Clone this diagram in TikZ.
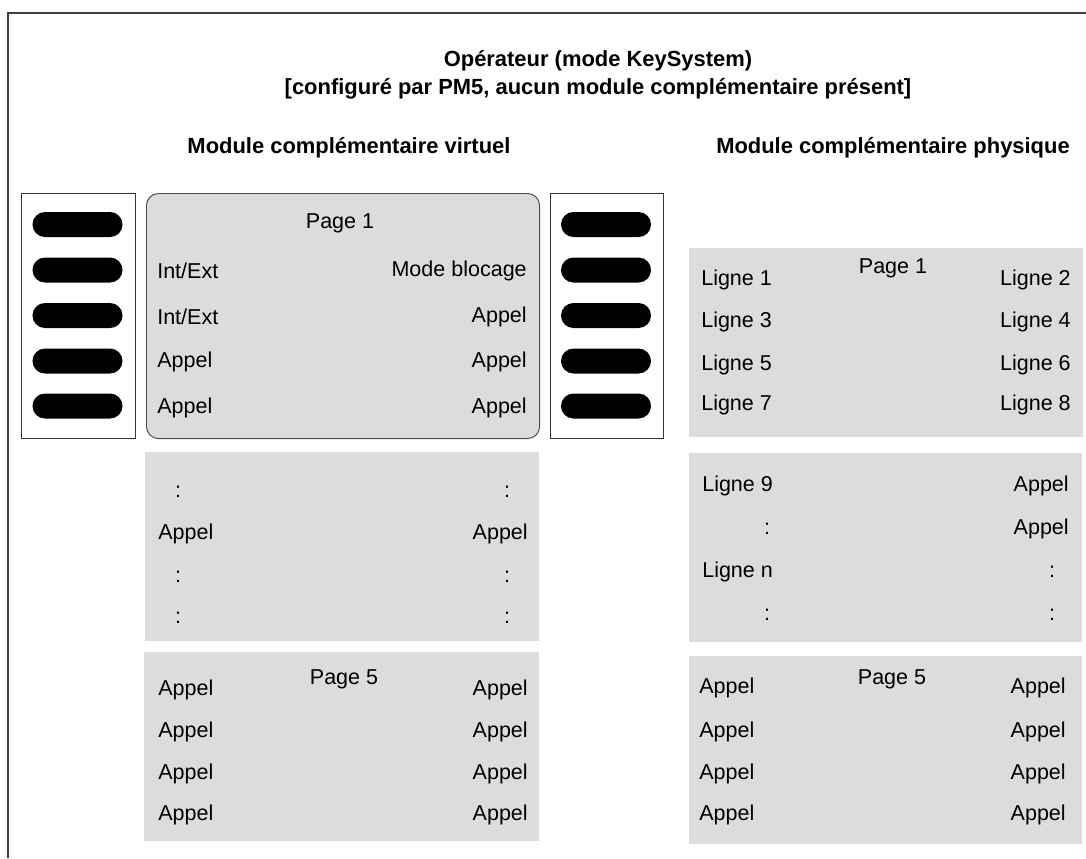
\documentclass[tikz,border=0pt]{standalone}
\usepackage{fontspec}
\setmainfont{Liberation Sans}
\usepackage{xcolor}
\usepackage{tikz}
\usetikzlibrary{shapes.misc, positioning}

\definecolor{pagegray}{HTML}{DCDCDC}

\begin{document}
\begin{tikzpicture}[
  x=0.025cm, y=-0.025cm,
  frame/.style    = {draw=black!75, line width=1.3pt},
  keypanel/.style = {rectangle, draw=black!80, fill=white, line width=0.7pt,
                     anchor=north west, inner sep=0pt},
  pill/.style     = {rounded rectangle, fill=black, minimum width=2.25cm,
                     minimum height=0.625cm, inner sep=0pt},
  page/.style     = {rectangle, fill=pagegray, anchor=north west, inner sep=0pt},
  lbl/.style      = {font=\fontsize{15.3}{18}\selectfont, inner sep=0pt},
  head/.style     = {font=\fontsize{15.6}{20}\selectfont\bfseries, inner sep=0pt},
]
\useasboundingbox (0,0) rectangle (1086,858);

% ===================== FRAME AND HEADINGS =====================
\draw[frame] (8,858) -- (8,13) -- (1086,13);

\node[head, align=center] (title) at (598,75)
  {Opérateur (mode KeySystem)\\{[}configuré par PM5, aucun module complémentaire présent{]}};
\node[head] (hvirt) at (349,148) {Module complémentaire virtuel};
\node[head] (hphys) at (893,148) {Module complémentaire physique};

% ===================== KEY PANELS =====================
\node[keypanel, minimum width=2.85cm, minimum height=6.125cm] (keysL) at (21,193) {};
\node[keypanel, minimum width=2.825cm, minimum height=6.125cm] (keysR) at (550,193) {};
\foreach \i/\ky in {1/224.5, 2/270, 3/315.5, 4/361, 5/406} {
  \node[pill] (pillL\i) at (77.5,\ky) {};
  \node[pill] (pillR\i) at (606,\ky) {};
}

% ===================== VIRTUAL MODULE =====================
% page 1
\node[page, draw=black!70, line width=0.7pt, rounded corners=0.3cm,
      minimum width=9.825cm, minimum height=6.125cm] (vp1) at (146,193) {};
\node[lbl] (vp1t) at (340,223) {Page 1};
\node[lbl, anchor=west] (vp1a) at (157,271) {Int/Ext};
\node[lbl, anchor=east] (vp1b) at (527,271) {Mode blocage};
\node[lbl, anchor=west] (vp1c) at (157,317) {Int/Ext};
\node[lbl, anchor=east] (vp1d) at (527,317) {Appel};
\node[lbl, anchor=west] (vp1e) at (157,362) {Appel};
\node[lbl, anchor=east] (vp1f) at (527,362) {Appel};
\node[lbl, anchor=west] (vp1g) at (157,408) {Appel};
\node[lbl, anchor=east] (vp1h) at (527,408) {Appel};

% pages in between
\node[page, minimum width=9.85cm, minimum height=4.725cm] (vpm) at (145,452) {};
\node[lbl] (vpma) at (178,492) {:};
\node[lbl] (vpmb) at (507,492) {:};
\node[lbl, anchor=west] (vpmc) at (158,534) {Appel};
\node[lbl, anchor=east] (vpmd) at (528,534) {Appel};
\node[lbl] (vpme) at (178,577) {:};
\node[lbl] (vpmf) at (507,577) {:};
\node[lbl] (vpmg) at (178,618) {:};
\node[lbl] (vpmh) at (507,618) {:};

% page 5
\node[page, minimum width=9.875cm, minimum height=4.725cm] (vp5) at (144,652) {};
\node[lbl] (vp5t) at (344,679) {Page 5};
\foreach \r/\ry in {1/690, 2/732, 3/774, 4/815} {
  \node[lbl, anchor=west] (vp5l\r) at (158,\ry) {Appel};
  \node[lbl, anchor=east] (vp5r\r) at (528,\ry) {Appel};
}

% ===================== PHYSICAL MODULE =====================
% page 1
\node[page, minimum width=9.85cm, minimum height=4.725cm] (pp1) at (689,248) {};
\node[lbl] (pp1t) at (893,268) {Page 1};
\foreach \r/\ry/\lt/\rt in {1/280/1/2, 2/322/3/4, 3/365/5/6, 4/405/7/8} {
  \node[lbl, anchor=west] (pp1l\r) at (701,\ry) {Ligne \lt};
  \node[lbl, anchor=east] (pp1r\r) at (1071,\ry) {Ligne \rt};
}

% pages in between
\node[page, minimum width=9.825cm, minimum height=4.725cm] (ppm) at (689,453) {};
\node[lbl, anchor=west] (ppma) at (702,486) {Ligne 9};
\node[lbl, anchor=east] (ppmb) at (1069,486) {Appel};
\node[lbl] (ppmc) at (767,529) {:};
\node[lbl, anchor=east] (ppmd) at (1069,529) {Appel};
\node[lbl, anchor=west] (ppme) at (702,572) {Ligne n};
\node[lbl] (ppmf) at (1052,572) {:};
\node[lbl] (ppmg) at (767,615) {:};
\node[lbl] (ppmh) at (1052,615) {:};

% page 5
\node[page, minimum width=9.825cm, minimum height=4.7cm] (pp5) at (689,656) {};
\node[lbl] (pp5t) at (892,679) {Page 5};
\foreach \r/\ry in {1/688, 2/732, 3/774, 4/815} {
  \node[lbl, anchor=west] (pp5l\r) at (699,\ry) {Appel};
  \node[lbl, anchor=east] (pp5r\r) at (1066,\ry) {Appel};
}

\end{tikzpicture}
\end{document}
